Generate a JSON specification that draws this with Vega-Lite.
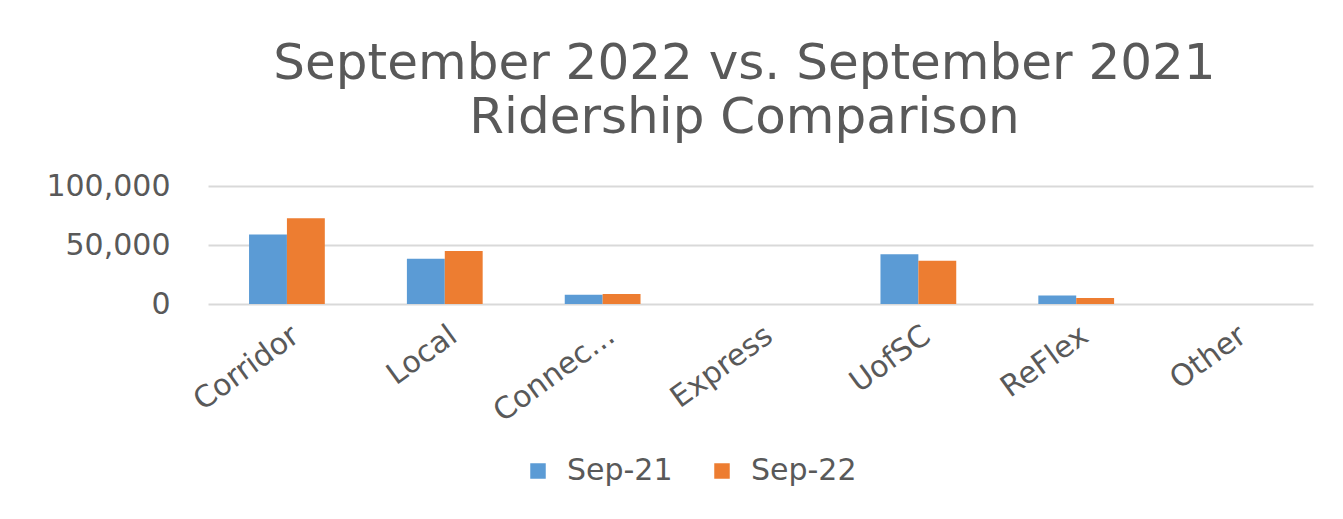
{
  "$schema": "https://vega.github.io/schema/vega-lite/v6.json",
  "autosize": {"type": "none"},
  "width": 1105,
  "height": 118,
  "padding": {"left": 208, "top": 186, "right": 30, "bottom": 215},
  "background": "white",
  "title": {
    "text": ["September 2022 vs. September 2021", "Ridership Comparison"],
    "anchor": "middle",
    "frame": "group",
    "dx": -16,
    "offset": 28,
    "font": "DejaVu Sans",
    "fontSize": 50,
    "fontWeight": "normal",
    "color": "#595959",
    "lineHeight": 54
  },
  "data": {
    "values": [
      {"route": "Corridor", "period": "Sep-21", "riders": 59000},
      {"route": "Corridor", "period": "Sep-22", "riders": 72600},
      {"route": "Local", "period": "Sep-21", "riders": 38400},
      {"route": "Local", "period": "Sep-22", "riders": 44900},
      {"route": "Connec...", "period": "Sep-21", "riders": 7900},
      {"route": "Connec...", "period": "Sep-22", "riders": 8500},
      {"route": "Express", "period": "Sep-21", "riders": 0},
      {"route": "Express", "period": "Sep-22", "riders": 0},
      {"route": "UofSC", "period": "Sep-21", "riders": 42100},
      {"route": "UofSC", "period": "Sep-22", "riders": 36700},
      {"route": "ReFlex", "period": "Sep-21", "riders": 7300},
      {"route": "ReFlex", "period": "Sep-22", "riders": 5100},
      {"route": "Other", "period": "Sep-21", "riders": 0},
      {"route": "Other", "period": "Sep-22", "riders": 0}
    ]
  },
  "mark": {"type": "bar"},
  "encoding": {
    "x": {
      "field": "route",
      "type": "nominal",
      "sort": null,
      "scale": {"paddingInner": 0.52, "paddingOuter": 0.26},
      "axis": {
        "title": null,
        "labelAngle": -36,
        "labelFont": "DejaVu Sans",
        "labelFontSize": 30,
        "labelColor": "#595959",
        "labelPadding": 16,
        "domain": false,
        "ticks": false,
        "grid": false
      }
    },
    "xOffset": {"field": "period", "type": "nominal", "scale": {"paddingInner": 0, "paddingOuter": 0}},
    "y": {
      "field": "riders",
      "type": "quantitative",
      "scale": {"domain": [0, 100000]},
      "axis": {
        "title": null,
        "values": [0, 50000, 100000],
        "format": ",d",
        "labelFont": "DejaVu Sans",
        "labelFontSize": 30,
        "labelColor": "#595959",
        "labelPadding": 38,
        "domain": false,
        "ticks": false,
        "gridColor": "#D9D9D9",
        "gridWidth": 2
      }
    },
    "color": {
      "field": "period",
      "type": "nominal",
      "scale": {"domain": ["Sep-21", "Sep-22"], "range": ["#5B9BD5", "#ED7D31"]},
      "legend": {
        "title": null,
        "orient": "none",
        "direction": "horizontal",
        "legendX": 315,
        "legendY": 270,
        "symbolType": "square",
        "symbolSize": 240,
        "symbolStrokeWidth": 0,
        "labelFont": "DejaVu Sans",
        "labelFontSize": 30,
        "labelColor": "#595959",
        "labelOffset": 14,
        "columnPadding": 34
      }
    }
  },
  "config": {"view": {"stroke": null}}
}
